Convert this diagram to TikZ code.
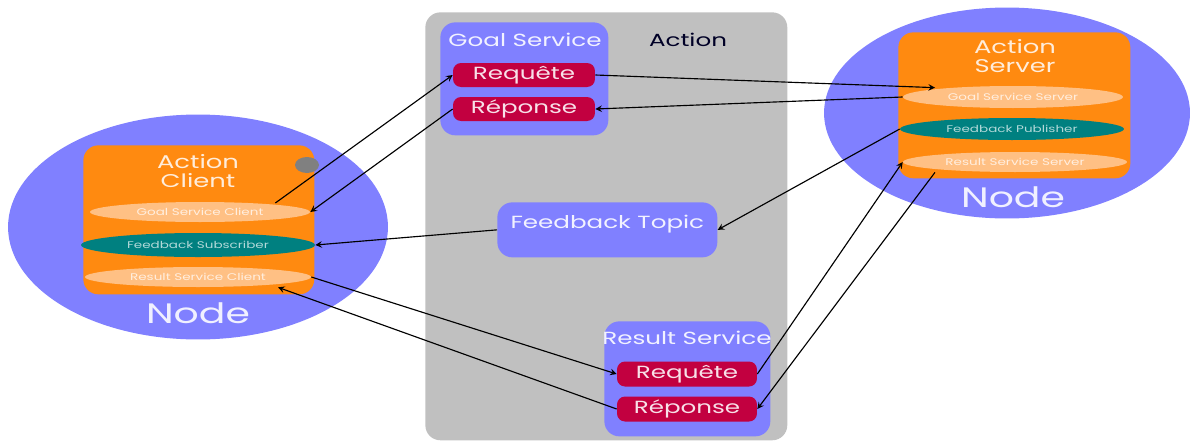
\documentclass[tikz,border=0pt]{standalone}
\usepackage{fontspec}
\setmainfont{Poppins}[FakeStretch=1.4]
\usepackage{tikz}
\usetikzlibrary{arrows}
\usetikzlibrary{shapes.geometric}
\usetikzlibrary{calc}
\definecolor{lav}{HTML}{8080FF}
\definecolor{actgray}{HTML}{C0C0C0}
\definecolor{orng}{HTML}{FF8A10}
\definecolor{peach}{HTML}{FFC084}
\definecolor{tealc}{HTML}{008080}
\definecolor{crim}{HTML}{C20040}
\definecolor{dotgray}{HTML}{808080}

\begin{document}
\begin{tikzpicture}[>=stealth, x=0.02cm, y=-0.02cm,
	box/.style={rounded corners=0.3cm, anchor=north west},
	msg/.style={fill=crim, rounded corners=0.16cm, minimum width=2.84cm, minimum height=0.48cm, inner sep=0pt, text=white!88!crim, font=\fontsize{10}{12}\selectfont},
	layer/.style={ellipse, inner sep=0pt, font=\fontsize{5.5}{6}\selectfont},
	title/.style={text=white!90!lav, font=\fontsize{10}{12}\selectfont},
	nodetxt/.style={text=white!88!lav, font=\fontsize{16}{18}\selectfont},
	link/.style={->, line width=0.65pt}]
	\useasboundingbox (0,0) rectangle (1199,443);
	
	%coordinates
	\coordinate (LLact) at (425,12);
	\coordinate (LLgs)  at (440,22);
	\coordinate (LLft)  at (497,202);
	\coordinate (LLrs)  at (604,321);
	\coordinate (LLac)  at (83,145);
	\coordinate (LLas)  at (898,32);
	
	%action
	\node[box, fill=actgray, minimum width=7.24cm, minimum height=8.56cm] (act) at (LLact) {};
	\node[text=black!85!blue, font=\fontsize{10}{12}\selectfont] (actlbl) at (688,40) {Action};
	
	\node[box, fill=lav, minimum width=3.36cm, minimum height=2.26cm] (gs) at (LLgs) {};
	\node[title] (gslbl) at (525,40) {Goal Service};
	\node[msg] (greq) at (524,75) {Requête};
	\node[msg] (grep) at (524,109) {Réponse};
	
	\node[box, fill=lav, minimum width=4.4cm, minimum height=1.1cm] (ft) at (LLft) {};
	\node[title] (ftlbl) at ($(ft.north)+(0,22)$) {Feedback Topic};
	
	\node[box, fill=lav, minimum width=3.32cm, minimum height=2.3cm] (rs) at (LLrs) {};
	\node[title] (rslbl) at (687,338) {Result Service};
	\node[msg, minimum width=2.8cm, minimum height=0.5cm] (rreq) at (687,374) {Requête};
	\node[msg, minimum width=2.8cm, minimum height=0.5cm] (rrep) at (687,409) {Réponse};
	
	%client node
	\node[ellipse, fill=lav, minimum width=7.6cm, minimum height=4.5cm] (nl) at (198,227) {};
	\node[box, fill=orng, minimum width=4.62cm, minimum height=2.98cm] (ac) at (LLac) {};
	\node[title, text=white!85!orng, align=center, font=\fontsize{10.5}{10.5}\selectfont] (aclbl) at (198,171) {Action\\Client};
	\node[ellipse, fill=dotgray, minimum width=0.48cm, minimum height=0.32cm, inner sep=0pt] (dotc) at (307,165) {};
	\node[layer, fill=peach, text=white!75!peach, minimum width=4.4cm, minimum height=0.4cm] (gsc) at (200,212) {Goal Service Client};
	\node[layer, fill=tealc, text=white!70!tealc, minimum width=4.68cm, minimum height=0.48cm] (fsub) at (198,245) {Feedback Subscriber};
	\node[layer, fill=peach, text=white!75!peach, minimum width=4.52cm, minimum height=0.4cm] (rsc) at (198,277) {Result Service Client};
	\node[nodetxt] (nllbl) at (198,313) {Node};
	
	%server node
	\node[ellipse, fill=lav, minimum width=7.32cm, minimum height=4.22cm] (nr) at (1007,113) {};
	\node[box, fill=orng, minimum width=4.64cm, minimum height=2.92cm] (as) at (LLas) {};
	\node[title, text=white!85!orng, align=center, font=\fontsize{10.5}{10.5}\selectfont] (aslbl) at (1015,56) {Action\\Server};
	\node[layer, fill=peach, text=white!75!peach, minimum width=4.4cm, minimum height=0.44cm] (gss) at (1013,97) {Goal Service Server};
	\node[layer, fill=tealc, text=white!70!tealc, minimum width=4.48cm, minimum height=0.44cm] (fpub) at (1012,129) {Feedback Publisher};
	\node[layer, fill=peach, text=white!75!peach, minimum width=4.48cm, minimum height=0.4cm] (rss) at (1015,162) {Result Service Server};
	\node[nodetxt] (nrlbl) at (1013,197) {Node};
	
	%goal
	\draw[link] ($(gsc.east)+(-35,-9)$) -- (greq.west);
	\draw[link] (grep.west) -- (gsc.east);
	\draw[link] (greq.east) -- ($(gss.north)+(-78,2)$);
	\draw[link] (gss.west) -- (grep.east);
	
	%feedback
	\draw[link] (fpub.west) -- (ft.east);
	\draw[link] (ft.west) -- (fsub.east);
	
	%result
	\draw[link] (rsc.east) -- (rreq.west);
	\draw[link] (rrep.west) -- ($(rsc.south)+(80,0)$);
	\draw[link] (rreq.east) -- (rss.west);
	\draw[link] ($(rss.south)+(-80,0)$) -- (rrep.east);
\end{tikzpicture}
\end{document}
